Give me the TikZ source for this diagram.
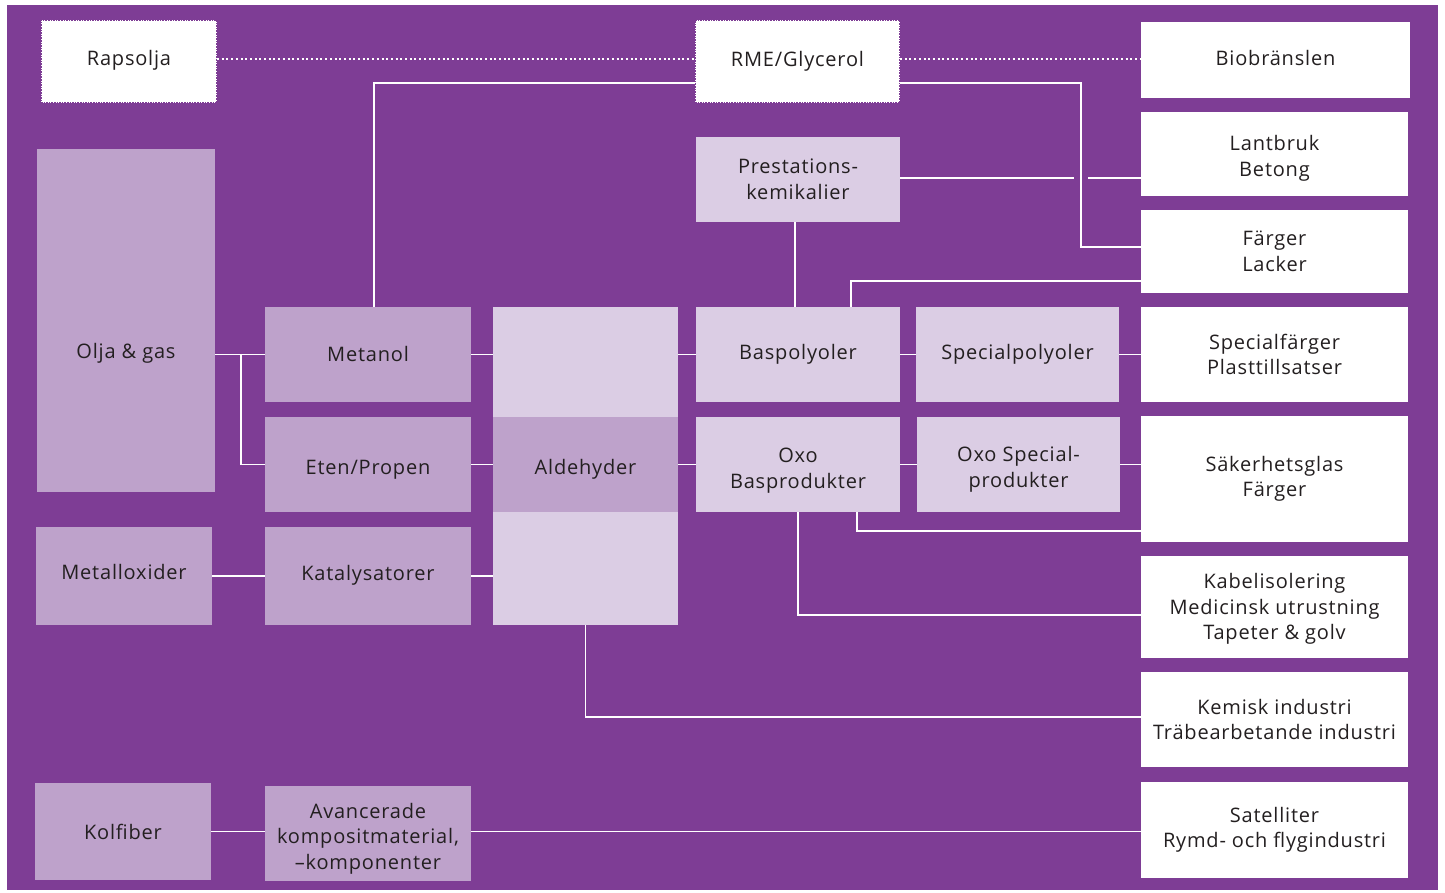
\documentclass[tikz,border=0pt]{standalone}
\usepackage{fontspec}
\setmainfont{Open Sans}[LetterSpace=4]
\definecolor{bgp}{HTML}{7E3D95}
\definecolor{medl}{HTML}{BEA2CB}
\definecolor{litl}{HTML}{DBCDE4}
\definecolor{txtc}{HTML}{231F20}
\begin{document}
\begin{tikzpicture}[x=1pt,y=-1pt,
  base/.style={inner sep=0pt, outer sep=0pt, align=center, text=txtc,
    font=\fontsize{20}{25.5}\selectfont},
  whitebox/.style={base, fill=white},
  medbox/.style={base, fill=medl},
  litbox/.style={base, fill=litl},
  dotbox/.style={base, fill=white, draw=bgp, densely dotted, line width=1.6pt},
  sz/.style 2 args={minimum width=#1pt, minimum height=#2pt},
  conn/.style={draw=white, line width=1.8pt},
  dotconn/.style={draw=white, line width=2pt, dash pattern=on 2pt off 2.7pt},
  txt/.style={base}]
\useasboundingbox (0,0) rectangle (1445,893);
\fill[white] (0,0) rectangle (1445,893);
\fill[bgp] (7,5) rectangle (1438,890);

% right column
\node[whitebox, sz={269}{76}, label={[base,yshift=2pt]center:Biobränslen}] (bio) at (1275.5,60) {};
\node[whitebox, sz={267}{84}, label={[base,yshift=-4.5pt]center:{Lantbruk\\Betong}}] (lantbruk) at (1274.5,154) {};
\node[whitebox, sz={267}{83}] (farger) at (1274.5,251.5) {Färger\\Lacker};
\node[whitebox, sz={267}{95}] (specfarg) at (1274.5,354.5) {Specialfärger\\Plasttillsatser};
\node[whitebox, sz={267}{126}] (saker) at (1274.5,479) {Säkerhetsglas\\Färger};
\node[whitebox, sz={267}{102}, label={[base,yshift=-2pt]center:{Kabelisolering\\Medicinsk utrustning\\Tapeter \& golv}}] (kabel) at (1274.5,607) {};
\node[whitebox, sz={267}{95}] (kemisk) at (1274.5,719.5) {Kemisk industri\\Träbearbetande industri};
\node[whitebox, sz={267}{96}] (satell) at (1274.5,830) {Satelliter\\Rymd- och flygindustri};

% top dotted boxes
\node[dotbox, sz={176}{83}, label={[base,yshift=1pt]center:Rapsolja}] (rapsolja) at (129,61.5) {};
\node[dotbox, sz={205}{83}] (rme) at (797.5,61.5) {RME/Glycerol};

% middle boxes
\node[litbox, sz={204}{85}] (prest) at (798,179.5) {Prestations-\\kemikalier};
\node[medbox, sz={178}{343}] (olja) at (126,320.5) {};
\node[medbox, sz={206}{95}, label={[base,yshift=1pt]center:Metanol}] (metanol) at (368,354.5) {};
\node[txt] at ([yshift=1pt]olja |- metanol) {Olja \& gas};
\node[medbox, sz={206}{95}, label={[base,yshift=-5pt]center:Eten/Propen}] (eten) at (368,464.5) {};
\node[litbox, sz={185}{318}] (aldcol) at (585.5,466) {};
\node[medbox, sz={185}{95}, label={[base,yshift=-5pt]center:Aldehyder}] (aldehyder) at (585.5,464.5) {};
\node[litbox, sz={204}{95}] (baspol) at (798,354.5) {Baspolyoler};
\node[litbox, sz={203}{95}] (specpol) at (1017.5,354.5) {Specialpolyoler};
\node[litbox, sz={204}{95}, label={[base,yshift=-6pt]center:{Oxo\\Basprodukter}}] (oxo) at (798,464.5) {};
\node[litbox, sz={203}{95}, label={[base,yshift=-5pt]center:{Oxo Special-\\produkter}}] (oxospec) at (1018.5,464.5) {};
\node[medbox, sz={176}{98}, label={[base,yshift=4pt]center:Metalloxider}] (metall) at (124,576) {};
\node[medbox, sz={206}{98}, label={[base,yshift=1pt]center:Katalysatorer}] (katal) at (368,576) {};
\node[medbox, sz={176}{97}] (kolfiber) at (123,831.5) {Kolfiber};
\node[medbox, sz={206}{95}, label={[base,yshift=-5pt]center:{Avancerade\\kompositmaterial,\\–komponenter}}] (avanc) at (368,833.5) {};

% dotted connectors
\draw[dotconn] ([yshift=2.5pt]rapsolja.east) -- ([yshift=2.5pt]rme.west);
\draw[dotconn] ([yshift=2.5pt]rme.east) -- ([yshift=2.5pt]rme.east -| bio.west);

% connectors
\coordinate (fbend) at (1081,0);
\coordinate (pl) at ([yshift=1.5pt]prest.east);
\draw[conn] ([xshift=6pt]metanol.north) |- ([yshift=-21.5pt]rme.west);
\draw[conn] ([yshift=-21.5pt]rme.east) -| ([yshift=4.5pt]farger.west -| fbend) -- ([yshift=4.5pt]farger.west);
\draw[conn] (pl) -- ++(174,0);
\draw[conn] (lantbruk.west |- pl) -- ++(-53,0);
\draw[conn] ([xshift=-3pt]prest.south) -- ([xshift=-3pt]baspol.north);
\draw[conn] ([xshift=53pt]baspol.north) |- ([yshift=-29.5pt]farger.west);

\draw[conn] (olja.east |- metanol) -- (metanol.west);
\draw[conn] ([xshift=-24pt]metanol.west) |- (eten.west);
\draw[conn] (metanol.east) -- (aldcol.west |- metanol);
\draw[conn] (aldcol.east |- baspol) -- (baspol.west);
\draw[conn] (baspol.east) -- (specpol.west);
\draw[conn] (specpol.east) -- (specfarg.west |- specpol);

\draw[conn] (eten.east) -- (aldehyder.west);
\draw[conn] (aldehyder.east) -- (oxo.west);
\draw[conn] (oxo.east) -- (oxospec.west);
\draw[conn] (oxospec.east) -- (saker.west |- oxospec);
\draw[conn] ([xshift=59pt]oxo.south) |- ([yshift=-52pt]saker.west);
\draw[conn] (oxo.south) |- ([yshift=-8pt]kabel.west);

\draw[conn] (metall.east) -- (katal.west);
\draw[conn] (katal.east) -- (aldcol.west |- katal);
\draw[conn] (aldcol.south) |- ([yshift=2.5pt]kemisk.west);

\draw[conn] (kolfiber.east) -- (avanc.west |- kolfiber.east);
\draw[conn] (avanc.east |- kolfiber.east) -- (satell.west |- kolfiber.east);
\end{tikzpicture}
\end{document}
